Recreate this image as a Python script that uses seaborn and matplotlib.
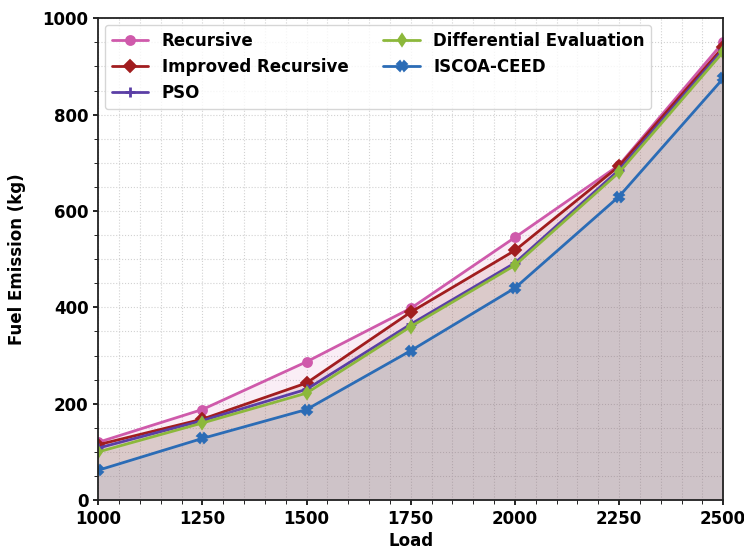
import matplotlib

matplotlib.use("Agg")
import matplotlib.pyplot as plt
import numpy as np
import pandas as pd
import seaborn as sns
from matplotlib.ticker import MultipleLocator

LOAD = [1000, 1250, 1500, 1750, 2000, 2250, 2500]
RECURSIVE = [120, 188, 287, 398, 545, 695, 950]
IMPROVED = [115, 168, 243, 390, 518, 693, 940]
PSO = [108, 165, 230, 365, 492, 685, 935]
DIFF_EVAL = [100, 160, 222, 360, 487, 680, 930]
ISCOA = [62, 128, 188, 310, 440, 630, 875]

SERIES = {
    "Recursive": RECURSIVE,
    "Improved Recursive": IMPROVED,
    "PSO": PSO,
    "Differential Evaluation": DIFF_EVAL,
    "ISCOA-CEED": ISCOA,
}
COLORS = {
    "Recursive": "#cf5aab",
    "Improved Recursive": "#a11d1f",
    "PSO": "#5b3fa6",
    "Differential Evaluation": "#8cb83b",
    "ISCOA-CEED": "#2b6cb6",
}
MARKERS = {
    "Recursive": "o",
    "Improved Recursive": "D",
    "PSO": "+",
    "Differential Evaluation": "d",
    "ISCOA-CEED": "X",
}
FILL_ALPHA = {
    "Recursive": 0.1,
    "Improved Recursive": 0.1,
    "PSO": 0.07,
    "Differential Evaluation": 0.1,
    "ISCOA-CEED": 0.07,
}

sns.set_style("ticks")
plt.rcParams["font.family"] = ["DejaVu Sans"]
plt.rcParams["font.weight"] = "bold"
plt.rcParams["text.color"] = "black"
plt.rcParams["axes.labelcolor"] = "black"
plt.rcParams["xtick.color"] = "black"
plt.rcParams["ytick.color"] = "black"

fig = plt.figure(figsize=(7.44, 5.52), dpi=100)
ax = fig.add_axes([0.132, 0.094, 0.840, 0.873])

frames = []
for name, values in SERIES.items():
    frames.append(pd.DataFrame({"Load": LOAD, "value": values, "method": name}))
data = pd.concat(frames, ignore_index=True)

for name in SERIES:
    sub = data[data["method"] == name]
    ax.fill_between(sub["Load"], sub["value"], color=COLORS[name],
                    alpha=FILL_ALPHA[name], linewidth=0)
    sns.lineplot(
        data=sub,
        x="Load",
        y="value",
        ax=ax,
        color=COLORS[name],
        marker=MARKERS[name],
        markersize=6.5,
        markeredgewidth=1.3 if MARKERS[name] != "+" else 2,
        markeredgecolor=COLORS[name],
        linewidth=2.0,
        label=name,
    )

ax.set_xlim(1000, 2500)
ax.set_ylim(0, 1000)
ax.xaxis.set_major_locator(MultipleLocator(250))
ax.xaxis.set_minor_locator(MultipleLocator(50))
ax.yaxis.set_major_locator(MultipleLocator(200))
ax.yaxis.set_minor_locator(MultipleLocator(50))
ax.grid(which="both", linestyle=":", color="#d2d2d2", linewidth=0.8)
ax.set_axisbelow(True)
ax.tick_params(axis="both", labelsize=12, width=1.2)
ax.tick_params(which="minor", length=3)
for lbl in ax.get_xticklabels() + ax.get_yticklabels():
    lbl.set_fontweight("bold")
for spine in ax.spines.values():
    spine.set_linewidth(1.3)
    spine.set_color("#222222")

ax.set_xlabel("Load", fontsize=12, fontweight="bold", labelpad=3)
ax.set_ylabel("Fuel Emission (kg)", fontsize=12, fontweight="bold", labelpad=12)

ax.legend(
    loc="upper left",
    ncol=2,
    prop={"weight": "bold", "size": 12},
    frameon=True,
    borderaxespad=0.4,
    handlelength=2.2,
    columnspacing=2.1,
    labelspacing=0.5,
)

fig.savefig("out.png", dpi=100, facecolor="white")
